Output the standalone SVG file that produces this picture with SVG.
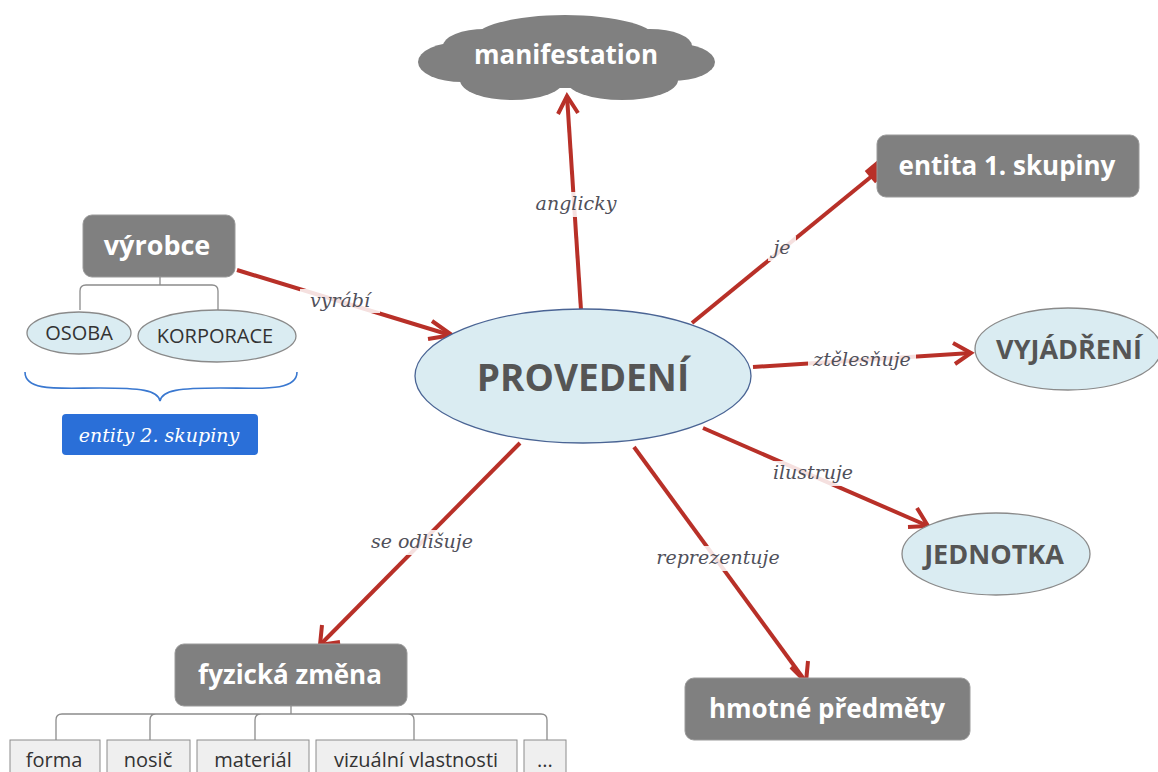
<svg xmlns="http://www.w3.org/2000/svg" width="1158" height="772" viewBox="0 0 1158 772">
<defs>
<style>
.gbox{fill:#808080;stroke:#9a9a9a;stroke-width:1}
.gtxt{font-family:"Open Sans","DejaVu Sans",sans-serif;font-weight:bold;fill:#ffffff;text-anchor:middle}
.ell{fill:#daecf2;stroke:#8a8a8a;stroke-width:1.3}
.etxt{font-family:"Open Sans","DejaVu Sans",sans-serif;font-weight:bold;fill:#555555;text-anchor:middle}
.stxt{font-family:"Open Sans","DejaVu Sans",sans-serif;fill:#333333;text-anchor:middle;font-size:20px}
.tree{fill:none;stroke:#8c8c8c;stroke-width:1.3}
.sub{fill:#efefef;stroke:#8c8c8c;stroke-width:1}
.con{stroke:#b83028;stroke-width:4;fill:none}
.head{fill:none;stroke:#b83028;stroke-width:4}
.lbg{fill:#ffffff;opacity:0.85}
.lbl{font-family:"DejaVu Serif",serif;font-style:italic;fill:#50505a;text-anchor:middle;font-size:19px}
</style>
</defs>
<rect width="1158" height="772" fill="#ffffff"/>

<g id="connectors">
<path class="con" d="M237,270 L450,335"/>
<path class="head" d="M432,321 L452,335 L428,339"/>
<path class="con" d="M581,310 L567,96"/>
<path class="head" d="M558,114 L567,96 L578,113"/>
<path class="con" d="M692,323 L872,176"/>
<rect x="868" y="164" width="16" height="16" fill="#b83028" transform="rotate(-40 876 172)"/>
<path class="con" d="M753,367 L971,353"/>
<path class="head" d="M953,343 L971,353 L955,364"/>
<path class="con" d="M703,428 L928,526"/>
<path class="head" d="M908,527 L928,526 L917,508"/>
<path class="con" d="M634,447 L806,682"/>
<path class="head" d="M791,667 L806,682 L808,661"/>
<path class="con" d="M520,443 L320,645"/>
<path class="head" d="M322,625 L320,645 L340,642"/>

<rect class="lbg" x="300" y="289" width="80" height="24"/>
<text class="lbl" x="340" y="307">vyrábí</text>
<rect class="lbg" x="528" y="192" width="96" height="25"/>
<text class="lbl" x="576" y="210">anglicky</text>
<rect class="lbg" x="768" y="236" width="28" height="25"/>
<text class="lbl" x="782" y="254">je</text>
<rect class="lbg" x="808" y="348" width="108" height="25"/>
<text class="lbl" x="862" y="366">ztělesňuje</text>
<rect class="lbg" x="766" y="461" width="94" height="25"/>
<text class="lbl" x="813" y="479">ilustruje</text>
<rect class="lbg" x="650" y="546" width="136" height="25"/>
<text class="lbl" x="718" y="564">reprezentuje</text>
<rect class="lbg" x="364" y="530" width="116" height="25"/>
<text class="lbl" x="422" y="548">se odlišuje</text>
</g>

<g id="manifestation">
<g fill="#808080">
<ellipse cx="566" cy="60" rx="130" ry="28"/>
<ellipse cx="565" cy="40" rx="92" ry="25"/>
<ellipse cx="462" cy="62" rx="44" ry="20"/>
<ellipse cx="672" cy="62" rx="43" ry="19"/>
<ellipse cx="512" cy="80" rx="52" ry="20"/>
<ellipse cx="622" cy="80" rx="56" ry="20"/>
<ellipse cx="485" cy="46" rx="42" ry="17"/>
<ellipse cx="650" cy="46" rx="42" ry="17"/>
</g>
<text class="gtxt" x="566" y="64" font-size="26">manifestation</text>
</g>

<g id="entita1">
<rect class="gbox" x="877" y="135" width="262" height="62" rx="9"/>
<text class="gtxt" x="1007" y="175" font-size="26">entita 1. skupiny</text>
</g>

<g id="vyrobce">
<rect class="gbox" x="83" y="215" width="152" height="62" rx="9"/>
<text class="gtxt" x="157" y="255" font-size="27">výrobce</text>
<path class="tree" d="M160,277 V285 M80,310 V291 Q80,285 86,285 H212 Q218,285 218,291 V310"/>
</g>

<g id="osoba">
<ellipse class="ell" cx="79" cy="333" rx="52" ry="21"/>
<text class="stxt" x="79" y="340">OSOBA</text>
</g>

<g id="korporace">
<ellipse class="ell" cx="217" cy="336" rx="79" ry="26"/>
<text class="stxt" x="215" y="343">KORPORACE</text>
</g>

<g id="entity2">
<path d="M25,372 C25,392 60,388 100,388 C140,388 158,390 160,401 C162,390 180,388 220,388 C260,388 297,392 297,372" fill="none" stroke="#3a78d0" stroke-width="1.6"/>
<rect x="62" y="414" width="196" height="41" rx="4" fill="#2a6fd8"/>
<text x="159" y="442" font-family="DejaVu Serif,serif" font-style="italic" font-size="19" fill="#ffffff" text-anchor="middle">entity 2. skupiny</text>
</g>

<g id="provedeni">
<ellipse cx="583" cy="376" rx="168" ry="67" fill="#daecf2" stroke="#4a6494" stroke-width="1.3"/>
<text class="etxt" x="583" y="391" font-size="37">PROVEDENÍ</text>
</g>

<g id="vyjadreni">
<ellipse class="ell" cx="1068" cy="349" rx="93" ry="41"/>
<text class="etxt" x="1069" y="359" font-size="27">VYJÁDŘENÍ</text>
</g>

<g id="jednotka">
<ellipse class="ell" cx="996" cy="554" rx="94" ry="41"/>
<text class="etxt" x="994" y="564" font-size="27">JEDNOTKA</text>
</g>

<g id="hmotne">
<rect class="gbox" x="685" y="678" width="285" height="62" rx="9"/>
<text class="gtxt" x="827" y="718" font-size="26">hmotné předměty</text>
</g>

<g id="fyzicka">
<rect class="gbox" x="175" y="644" width="232" height="62" rx="9"/>
<text class="gtxt" x="290" y="684" font-size="26">fyzická změna</text>
<path class="tree" d="M291,706 V714 M56,740 V720 Q56,714 62,714 H541 Q547,714 547,720 V740 M150,740 V720 Q150,714 156,714 M255,740 V720 Q255,714 261,714 M414,740 V720 Q414,714 408,714"/>
</g>

<g id="forma">
<rect class="sub" x="10" y="740" width="90" height="40"/>
<text class="stxt" x="54" y="767">forma</text>
</g>
<g id="nosic">
<rect class="sub" x="107" y="740" width="83" height="40"/>
<text class="stxt" x="148" y="767">nosič</text>
</g>
<g id="material">
<rect class="sub" x="197" y="740" width="112" height="40"/>
<text class="stxt" x="253" y="767">materiál</text>
</g>
<g id="vizualni">
<rect class="sub" x="316" y="740" width="201" height="40"/>
<text class="stxt" x="416" y="767">vizuální vlastnosti</text>
</g>
<g id="more">
<rect class="sub" x="524" y="740" width="42" height="40"/>
<text class="stxt" x="545" y="767">...</text>
</g>
</svg>
